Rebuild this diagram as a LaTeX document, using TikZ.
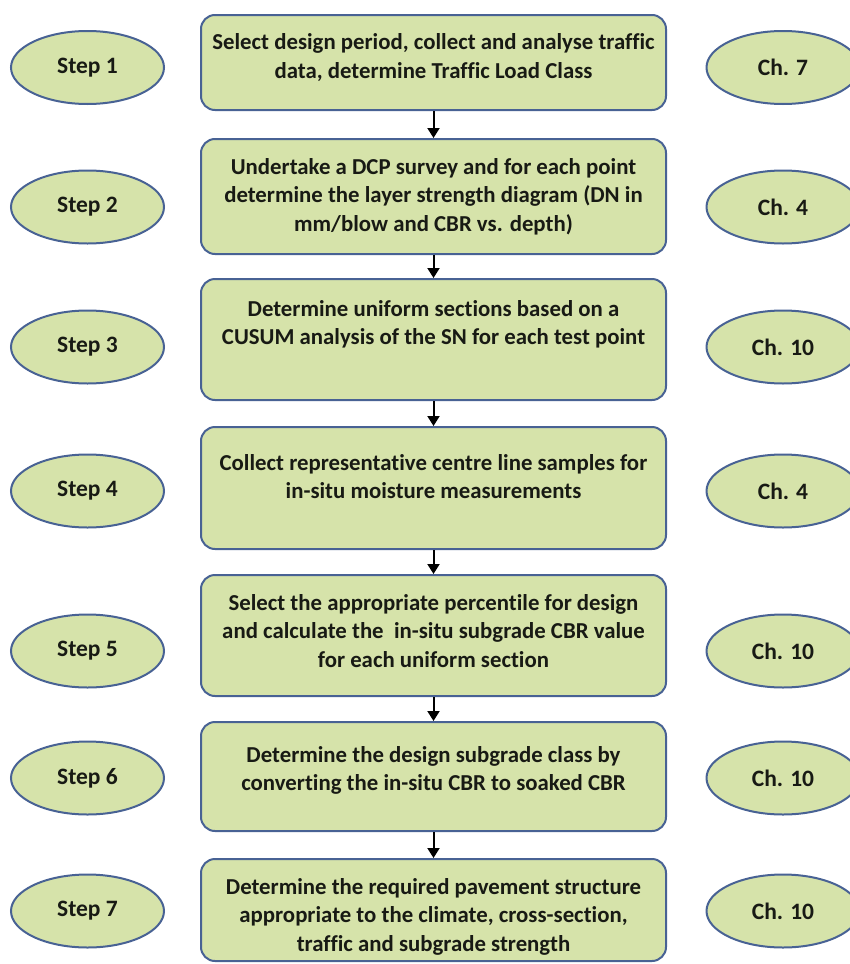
\documentclass[tikz,border=0pt]{standalone}
\usepackage{fontspec}
\setmainfont{Carlito}[Ligatures=NoCommon]
\usetikzlibrary{arrows.meta, shapes.geometric}

\definecolor{leaf}{RGB}{214,227,170}
\definecolor{edge}{RGB}{72,98,148}
\definecolor{ink}{RGB}{24,26,20}

% text set from the top of a box of given height
\newcommand{\boxtext}[2]{\parbox[c][#1][t]{462pt}{\centering\vspace*{19pt}#2}}

\begin{document}
\begin{tikzpicture}[x=1pt, y=-1pt,
        stepbox/.style={rectangle, draw=edge, line width=2pt, rounded corners=14pt,
                  fill=leaf, inner sep=0pt, minimum width=465pt, anchor=north,
                  text=ink, font=\fontsize{22.8}{28.5}\selectfont\bfseries},
        tag/.style={ellipse, draw=edge, line width=2pt, fill=leaf, inner sep=0pt,
                  minimum width=153pt, minimum height=73pt,
                  text=ink, font=\fontsize{23.5}{27}\selectfont\bfseries},
        flow/.style={-{Triangle[length=10pt,width=12pt]}, line width=2pt, black}]
      \useasboundingbox[fill=white] (0,0) rectangle (849,964);

      % the seven steps down the middle
      \node[stepbox] (s1) at (433.5,14) {\boxtext{95pt}{Select design period, collect and analyse traffic\\ data, determine Traffic Load Class}};
      \node[stepbox] (s2) at (433.5,138) {\boxtext{115pt}{Undertake a DCP survey and for each point\\ determine the layer strength diagram (DN in\\ mm/blow and CBR vs. depth)}};
      \node[stepbox] (s3) at (433.5,278) {\boxtext{121pt}{\vspace*{2pt}Determine uniform sections based on a\\ CUSUM analysis of the SN for each test point}};
      \node[stepbox] (s4) at (433.5,426) {\boxtext{122pt}{\vspace*{8pt}Collect representative centre line samples for\\ in-situ moisture measurements}};
      \node[stepbox] (s5) at (433.5,574) {\boxtext{121pt}{Select the appropriate percentile for design\\ and calculate the\ \ in-situ subgrade CBR value\\ for each uniform section}};
      \node[stepbox] (s6) at (433.5,721) {\boxtext{109pt}{\vspace*{5pt}Determine the design subgrade class by\\ converting the in-situ CBR to soaked CBR}};
      \node[stepbox] (s7) at (433.5,858) {\boxtext{102pt}{Determine the required pavement structure\\ appropriate to the climate, cross-section,\\ traffic and subgrade strength}};

      \draw[flow] (s1) -- (s2);
      \draw[flow] (s2) -- (s3);
      \draw[flow] (s3) -- (s4);
      \draw[flow] (s4) -- (s5);
      \draw[flow] (s5) -- (s6);
      \draw[flow] (s6) -- (s7);

      % step numbers on the left
      \node[tag] (n1) at (87.5,67.5) {Step 1};
      \node[tag] (n2) at (87.5,207) {Step 2};
      \node[tag] (n3) at (87.5,347) {Step 3};
      \node[tag] (n4) at (87.5,491) {Step 4};
      \node[tag] (n5) at (87.5,651) {Step 5};
      \node[tag] (n6) at (87.5,778) {Step 6};
      \node[tag] (n7) at (87.5,911) {Step 7};

      % chapter references on the right
      \node[tag] (c1) at (783,67.5) {Ch. 7};
      \node[tag] (c2) at (783,207) {Ch. 4};
      \node[tag] (c3) at (783,347) {Ch. 10};
      \node[tag] (c4) at (783,491) {Ch. 4};
      \node[tag] (c5) at (783,651) {Ch. 10};
      \node[tag] (c6) at (783,778) {Ch. 10};
      \node[tag] (c7) at (783,911) {Ch. 10};
    \end{tikzpicture}
\end{document}
